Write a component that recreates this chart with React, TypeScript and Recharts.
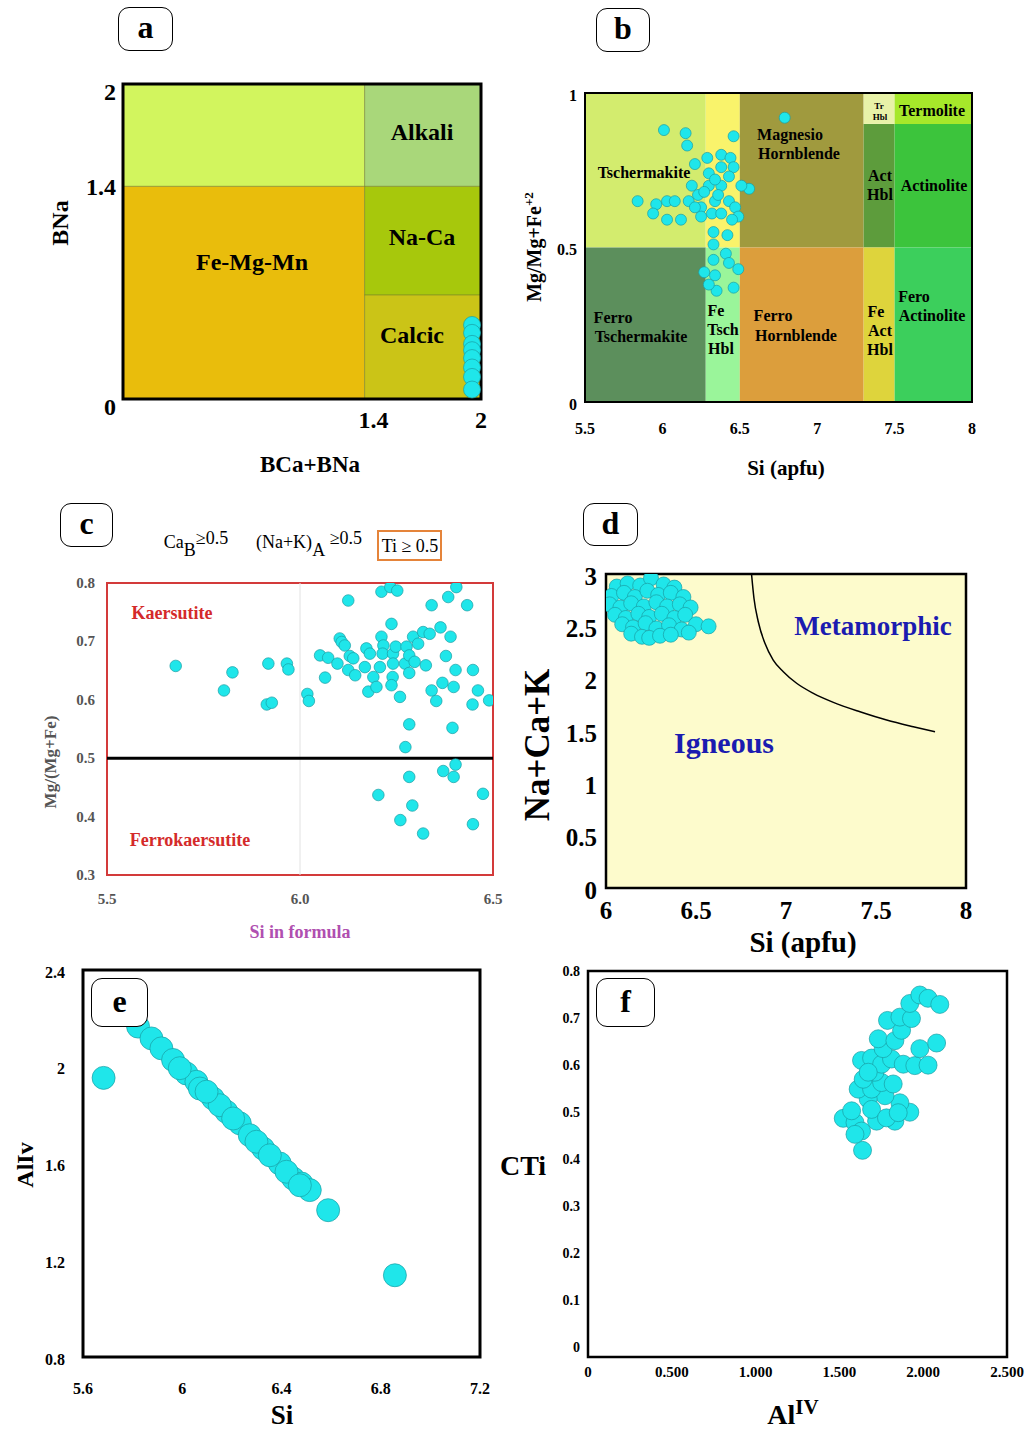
import React from "react";
import {
  ScatterChart,
  ComposedChart,
  Scatter,
  Line,
  XAxis,
  YAxis,
  ReferenceArea,
  ReferenceLine,
} from "recharts";

const SERIF = '"Liberation Serif", "Times New Roman", serif';
const CYAN = "#1fe6ea";
const CYAN_EDGE = "#1a9da3";

// ---------- a: BNa vs BCa+BNa ----------
const aXTicks = [1.4, 2];
const aYTicks = [0, 1.4, 2];
const aRegions: [number, number, number, number][] = [
  [0, 1.35, 1.35, 2],
  [1.35, 2, 1.35, 2],
  [0, 1.35, 0, 1.35],
  [1.35, 2, 0.66, 1.35],
  [1.35, 2, 0, 0.66],
];
const aFills = ["#d2f55e", "#a9d77a", "#e9bd0c", "#a7c80c", "#cbc417"];
const aPoints: [number, number][] = [
  [1.95, 0.47], [1.95, 0.42], [1.95, 0.35], [1.95, 0.31],
  [1.95, 0.26], [1.95, 0.2], [1.95, 0.14], [1.95, 0.06],
];

// ---------- b: Mg/(Mg+Fe2) vs Si ----------
const bXTicks = [5.5, 6, 6.5, 7, 7.5, 8];
const bYTicks = [0, 0.5, 1];
const bRegions: [number, number, number, number][] = [
  [5.5, 6.28, 0.5, 1],
  [6.28, 6.5, 0.5, 1],
  [6.5, 7.3, 0.5, 1],
  [7.3, 7.5, 0.9, 1],
  [7.5, 8, 0.9, 1],
  [7.3, 7.5, 0.5, 0.9],
  [7.5, 8, 0.5, 0.9],
  [5.5, 6.28, 0, 0.5],
  [6.28, 6.5, 0, 0.5],
  [6.5, 7.3, 0, 0.5],
  [7.3, 7.5, 0, 0.5],
  [7.5, 8, 0, 0.5],
];
const bFills = [
  "#d3ec6e", "#f9f36b", "#a09a3e", "#e8f2a8", "#a6e82a", "#5d9c3c",
  "#3cc43c", "#5c8f5c", "#9af59a", "#dc9e3c", "#ded43c", "#3ccf5c",
];
const bPoints: [number, number][] = [
  [6.79, 0.92], [6.01, 0.88], [6.15, 0.87], [6.16, 0.83], [6.46, 0.86],
  [6.29, 0.79], [6.38, 0.8], [6.44, 0.79], [6.21, 0.77], [6.46, 0.76],
  [6.3, 0.74], [6.38, 0.76], [6.56, 0.69], [6.51, 0.7], [5.84, 0.65],
  [5.96, 0.64], [5.94, 0.61], [6.03, 0.65], [6.03, 0.59], [6.12, 0.59],
  [6.08, 0.65], [6.17, 0.65], [6.19, 0.7], [6.23, 0.67], [6.25, 0.63],
  [6.3, 0.7], [6.34, 0.65], [6.38, 0.7], [6.43, 0.65], [6.47, 0.63],
  [6.49, 0.6], [6.25, 0.6], [6.32, 0.61], [6.38, 0.61], [6.45, 0.59],
  [6.34, 0.72], [6.43, 0.73], [6.21, 0.63], [6.27, 0.68], [6.36, 0.67],
  [6.33, 0.55], [6.42, 0.54], [6.33, 0.51], [6.41, 0.48], [6.43, 0.45],
  [6.33, 0.46], [6.27, 0.42], [6.49, 0.43], [6.34, 0.41], [6.35, 0.36],
  [6.46, 0.37], [6.3, 0.38],
];

// ---------- c: Mg/(Mg+Fe) vs Si in formula ----------
const cXTicks = [5.5, 6.0, 6.5];
const cYTicks = [0.3, 0.4, 0.5, 0.6, 0.7, 0.8];
const cPoints: [number, number][] = [
  [5.678, 0.658], [5.825, 0.647], [5.803, 0.616], [5.918, 0.662], [5.914, 0.592],
  [5.927, 0.595], [5.966, 0.662], [5.97, 0.652], [6.019, 0.61], [6.023, 0.598],
  [6.052, 0.676], [6.073, 0.672], [6.065, 0.638], [6.097, 0.662], [6.125, 0.77],
  [6.103, 0.705], [6.108, 0.699], [6.116, 0.693], [6.129, 0.675], [6.138, 0.671],
  [6.125, 0.651], [6.143, 0.642], [6.168, 0.656], [6.172, 0.688], [6.181, 0.679],
  [6.177, 0.614], [6.19, 0.639], [6.198, 0.622], [6.207, 0.656], [6.211, 0.785],
  [6.211, 0.708], [6.216, 0.693], [6.214, 0.679], [6.234, 0.793], [6.252, 0.787],
  [6.237, 0.73], [6.241, 0.679], [6.241, 0.662], [6.24, 0.639], [6.237, 0.625],
  [6.248, 0.691], [6.259, 0.605], [6.272, 0.662], [6.276, 0.691], [6.283, 0.676],
  [6.283, 0.646], [6.293, 0.708], [6.297, 0.665], [6.306, 0.696], [6.319, 0.716],
  [6.336, 0.713], [6.326, 0.659], [6.341, 0.762], [6.341, 0.616], [6.353, 0.598],
  [6.364, 0.724], [6.369, 0.629], [6.378, 0.675], [6.384, 0.776], [6.39, 0.708],
  [6.398, 0.622], [6.403, 0.651], [6.405, 0.793], [6.433, 0.762], [6.448, 0.651],
  [6.447, 0.592], [6.461, 0.616], [6.49, 0.599], [6.283, 0.558], [6.395, 0.552],
  [6.273, 0.519], [6.403, 0.489], [6.371, 0.478], [6.398, 0.468], [6.283, 0.468],
  [6.203, 0.437], [6.474, 0.439], [6.291, 0.419], [6.26, 0.394], [6.448, 0.387],
  [6.319, 0.371],
];

// ---------- d: Na+Ca+K vs Si ----------
const dXTicks = [6, 6.5, 7, 7.5, 8];
const dYTicks = [0, 0.5, 1, 1.5, 2, 2.5, 3];
const dBoundary: [number, number][] = [
  [6.809, 2.99], [6.822, 2.768], [6.846, 2.544], [6.883, 2.338], [6.929, 2.178],
  [6.985, 2.067], [7.059, 1.956], [7.152, 1.86], [7.263, 1.774], [7.411, 1.684],
  [7.559, 1.605], [7.707, 1.541], [7.828, 1.493],
];
const dPoints: [number, number][] = [
  [6.06, 2.88], [6.12, 2.91], [6.19, 2.89], [6.25, 2.96], [6.32, 2.9], [6.38, 2.87],
  [6.03, 2.79], [6.1, 2.82], [6.16, 2.78], [6.23, 2.84], [6.29, 2.8], [6.36, 2.82],
  [6.43, 2.78], [6.02, 2.71], [6.08, 2.68], [6.14, 2.72], [6.21, 2.69], [6.28, 2.73],
  [6.34, 2.69], [6.41, 2.71], [6.47, 2.68], [6.05, 2.61], [6.11, 2.58], [6.18, 2.62],
  [6.24, 2.59], [6.31, 2.62], [6.38, 2.58], [6.44, 2.61], [6.09, 2.52], [6.15, 2.49],
  [6.22, 2.53], [6.28, 2.48], [6.35, 2.51], [6.42, 2.47], [6.5, 2.52], [6.57, 2.5],
  [6.14, 2.43], [6.2, 2.4], [6.24, 2.39], [6.3, 2.41], [6.36, 2.42], [6.46, 2.44],
];

// ---------- e: AlIV vs Si ----------
const eXTicks = [5.6, 6, 6.4, 6.8, 7.2];
const eYTicks = [0.8, 1.2, 1.6, 2, 2.4];
const ePoints: [number, number][] = [
  [5.683, 1.954], [6.588, 1.407], [6.857, 1.138], [5.822, 2.166], [5.876, 2.117],
  [5.916, 2.076], [5.963, 2.028], [6.017, 1.972], [6.057, 1.938], [6.124, 1.869],
  [6.178, 1.814], [6.232, 1.766], [6.272, 1.717], [6.326, 1.662], [6.393, 1.6],
  [6.447, 1.538], [6.481, 1.517], [6.514, 1.49], [6.071, 1.91], [6.151, 1.841],
  [6.205, 1.786], [6.299, 1.69], [6.353, 1.634], [6.42, 1.566], [6.474, 1.51],
  [5.99, 1.994], [6.098, 1.897],
];

// ---------- f: CTi vs AlIV ----------
const fXTicks = [0, 0.5, 1, 1.5, 2, 2.5];
const fYTicks = [0, 0.1, 0.2, 0.3, 0.4, 0.5, 0.6, 0.7, 0.8];
const fPoints: [number, number][] = [
  [1.638, 0.419], [1.523, 0.487], [1.593, 0.478], [1.632, 0.46], [1.722, 0.481],
  [1.831, 0.481], [1.92, 0.5], [1.861, 0.52], [1.772, 0.535], [1.672, 0.528],
  [1.612, 0.549], [1.692, 0.549], [1.752, 0.563], [1.821, 0.56], [1.642, 0.57],
  [1.712, 0.585], [1.632, 0.61], [1.692, 0.615], [1.752, 0.602], [1.811, 0.613],
  [1.881, 0.602], [1.95, 0.599], [2.029, 0.6], [1.98, 0.635], [2.08, 0.647],
  [1.761, 0.635], [1.732, 0.656], [1.831, 0.652], [1.871, 0.674], [1.787, 0.695],
  [1.861, 0.702], [1.93, 0.699], [1.92, 0.731], [1.98, 0.749], [2.029, 0.742],
  [2.099, 0.729], [1.692, 0.506], [1.573, 0.503], [1.781, 0.488], [1.851, 0.499],
  [1.672, 0.585], [1.593, 0.453],
];

const toXY = (pts: [number, number][]) => pts.map(([x, y]) => ({ x, y }));

type Box = { left: number; top: number; right: number; bottom: number };
const PAD = { l: 60, t: 10, r: 20, b: 50 };

function placement(b: Box) {
  return {
    wrap: {
      position: "absolute" as const,
      left: b.left - PAD.l,
      top: b.top - PAD.t,
    },
    width: b.right - b.left + PAD.l + PAD.r,
    height: b.bottom - b.top + PAD.t + PAD.b,
    margin: { top: PAD.t, right: PAD.r, bottom: 0, left: 0 },
  };
}

const dot = (r: number) => (p: any) =>
  <circle cx={p.cx} cy={p.cy} r={r} fill={CYAN} stroke={CYAN_EDGE} strokeWidth={0.7} />;

function xTick(off: number, size: number, fmt?: (v: number) => string, color = "#000") {
  return (p: any) => (
    <text
      x={p.x}
      y={p.y + off}
      textAnchor="middle"
      dominantBaseline="central"
      fontFamily={SERIF}
      fontWeight="bold"
      fontSize={size}
      fill={color}
    >
      {fmt ? fmt(p.payload.value) : p.payload.value}
    </text>
  );
}

function yTick(gap: number, size: number, dy = 0, fmt?: (v: number) => string, color = "#000") {
  return (p: any) => (
    <text
      x={p.x - gap}
      y={p.y + dy}
      textAnchor="end"
      dominantBaseline="central"
      fontFamily={SERIF}
      fontWeight="bold"
      fontSize={size}
      fill={color}
    >
      {fmt ? fmt(p.payload.value) : p.payload.value}
    </text>
  );
}

function T({ x, y, size, children, color = "#000", rot = 0, weight = "bold" }: any) {
  return (
    <div
      style={{
        position: "absolute",
        left: x,
        top: y,
        transform: `translate(-50%, -50%)${rot ? ` rotate(${rot}deg)` : ""}`,
        fontFamily: SERIF,
        fontWeight: weight,
        fontSize: size,
        color,
        whiteSpace: "nowrap",
        lineHeight: 1,
      }}
    >
      {children}
    </div>
  );
}

function Tag({ x, y, w, h, letter }: any) {
  return (
    <div
      style={{
        position: "absolute",
        left: x,
        top: y,
        width: w,
        height: h,
        boxSizing: "border-box",
        border: "1.5px solid #000",
        borderRadius: 11,
        background: "#fff",
        display: "flex",
        alignItems: "center",
        justifyContent: "center",
        fontFamily: SERIF,
        fontWeight: "bold",
        fontSize: 32,
        lineHeight: 1,
        paddingBottom: 4,
      }}
    >
      {letter}
    </div>
  );
}

function PanelA() {
  const p = placement({ left: 123, top: 84, right: 481, bottom: 399 });
  return (
    <div style={p.wrap}>
      <ScatterChart width={p.width} height={p.height} margin={p.margin}>
        <XAxis type="number" dataKey="x" domain={[0, 2]} ticks={aXTicks} interval={0}
          height={PAD.b} axisLine={false} tickLine={false} tickSize={0} tickMargin={0}
          tick={xTick(21, 24)} allowDataOverflow />
        <YAxis type="number" dataKey="y" domain={[0, 2]} ticks={aYTicks} interval={0}
          width={PAD.l} axisLine={false} tickLine={false} tickSize={0} tickMargin={0}
          tick={yTick(7, 24, 8)} allowDataOverflow />
        {aRegions.map(([x1, x2, y1, y2], i) => (
          <ReferenceArea key={i} x1={x1} x2={x2} y1={y1} y2={y2} fill={aFills[i]}
            fillOpacity={1} stroke="#6f7a2a" strokeWidth={0.8} strokeOpacity={0.6} />
        ))}
        <ReferenceArea x1={0} x2={2} y1={0} y2={2} fill="none" stroke="#000" strokeWidth={3} />
        <Scatter data={toXY(aPoints)} shape={dot(8.5)} isAnimationActive={false} />
      </ScatterChart>
    </div>
  );
}

function PanelB() {
  const p = placement({ left: 585, top: 93, right: 972, bottom: 402 });
  return (
    <div style={p.wrap}>
      <ScatterChart width={p.width} height={p.height} margin={p.margin}>
        <XAxis type="number" dataKey="x" domain={[5.5, 8]} ticks={bXTicks} interval={0}
          height={PAD.b} axisLine={false} tickLine={false} tickSize={0} tickMargin={0}
          tick={xTick(26, 16)} allowDataOverflow />
        <YAxis type="number" dataKey="y" domain={[0, 1]} ticks={bYTicks} interval={0}
          width={PAD.l} axisLine={false} tickLine={false} tickSize={0} tickMargin={0}
          tick={yTick(8, 16, 2)} allowDataOverflow />
        {bRegions.map(([x1, x2, y1, y2], i) => (
          <ReferenceArea key={i} x1={x1} x2={x2} y1={y1} y2={y2} fill={bFills[i]}
            fillOpacity={1} stroke="none" />
        ))}
        <ReferenceArea x1={5.5} x2={8} y1={0} y2={1} fill="none" stroke="#000" strokeWidth={2} />
        <Scatter data={toXY(bPoints)} shape={dot(5.5)} isAnimationActive={false} />
      </ScatterChart>
    </div>
  );
}

function PanelC() {
  const p = placement({ left: 107, top: 583, right: 493, bottom: 875 });
  return (
    <div style={p.wrap}>
      <ScatterChart width={p.width} height={p.height} margin={p.margin}>
        <XAxis type="number" dataKey="x" domain={[5.5, 6.5]} ticks={cXTicks} interval={0}
          height={PAD.b} axisLine={false} tickLine={false} tickSize={0} tickMargin={0}
          tick={xTick(24, 15, (v) => v.toFixed(1), "#555")} allowDataOverflow />
        <YAxis type="number" dataKey="y" domain={[0.3, 0.8]} ticks={cYTicks} interval={0}
          width={PAD.l} axisLine={false} tickLine={false} tickSize={0} tickMargin={0}
          tick={yTick(12, 15, 0, (v) => v.toFixed(1), "#555")} allowDataOverflow />
        <ReferenceLine x={6} stroke="#e2e2e2" strokeWidth={1} />
        <ReferenceArea x1={5.5} x2={6.5} y1={0.3} y2={0.8} fill="none" stroke="#d33a3a" strokeWidth={2} />
        <ReferenceLine y={0.5} stroke="#000" strokeWidth={3} />
        <Scatter data={toXY(cPoints)} shape={dot(5.8)} isAnimationActive={false} />
      </ScatterChart>
    </div>
  );
}

function PanelD() {
  const p = placement({ left: 606, top: 574, right: 966, bottom: 888 });
  return (
    <div style={p.wrap}>
      <ComposedChart width={p.width} height={p.height} margin={p.margin}>
        <XAxis type="number" dataKey="x" domain={[6, 8]} ticks={dXTicks} interval={0}
          height={PAD.b} axisLine={false} tickLine={false} tickSize={0} tickMargin={0}
          tick={xTick(22, 25)} allowDataOverflow />
        <YAxis type="number" dataKey="y" domain={[0, 3]} ticks={dYTicks} interval={0}
          width={PAD.l} axisLine={false} tickLine={false} tickSize={0} tickMargin={0}
          tick={yTick(9, 25, 2)} allowDataOverflow />
        <ReferenceArea x1={6} x2={8} y1={0} y2={3} fill="#fdfbcc" fillOpacity={1}
          stroke="#000" strokeWidth={2.5} />
        <Line data={toXY(dBoundary)} dataKey="y" type="monotone" stroke="#000"
          strokeWidth={1.5} dot={false} isAnimationActive={false} />
        <Scatter data={toXY(dPoints)} shape={dot(7.5)} isAnimationActive={false} />
      </ComposedChart>
    </div>
  );
}

function PanelE() {
  const p = placement({ left: 83, top: 970, right: 480, bottom: 1357 });
  return (
    <div style={p.wrap}>
      <ScatterChart width={p.width} height={p.height} margin={p.margin}>
        <XAxis type="number" dataKey="x" domain={[5.6, 7.2]} ticks={eXTicks} interval={0}
          height={PAD.b} axisLine={false} tickLine={false} tickSize={0} tickMargin={0}
          tick={xTick(31, 16)} allowDataOverflow />
        <YAxis type="number" dataKey="y" domain={[0.8, 2.4]} ticks={eYTicks} interval={0}
          width={PAD.l} axisLine={false} tickLine={false} tickSize={0} tickMargin={0}
          tick={yTick(18, 16, 2)} allowDataOverflow />
        <ReferenceArea x1={5.6} x2={7.2} y1={0.8} y2={2.4} fill="none" stroke="#000" strokeWidth={3} />
        <Scatter data={toXY(ePoints)} shape={dot(11.5)} isAnimationActive={false} />
      </ScatterChart>
    </div>
  );
}

function PanelF() {
  const p = placement({ left: 588, top: 971, right: 1007, bottom: 1357 });
  return (
    <div style={p.wrap}>
      <ScatterChart width={p.width} height={p.height} margin={p.margin}>
        <XAxis type="number" dataKey="x" domain={[0, 2.5]} ticks={fXTicks} interval={0}
          height={PAD.b} axisLine={false} tickLine={false} tickSize={0} tickMargin={0}
          tick={xTick(15, 15, (v) => (v === 0 ? "0" : v.toFixed(3)))} allowDataOverflow />
        <YAxis type="number" dataKey="y" domain={[-0.02, 0.8]} ticks={fYTicks} interval={0}
          width={PAD.l} axisLine={false} tickLine={false} tickSize={0} tickMargin={0}
          tick={yTick(8, 14, 0, (v) => (v === 0 ? "0" : String(v)))} allowDataOverflow />
        <ReferenceArea x1={0} x2={2.5} y1={-0.02} y2={0.8} fill="none" stroke="#000" strokeWidth={2.5} />
        <Scatter data={toXY(fPoints)} shape={dot(9)} isAnimationActive={false} />
      </ScatterChart>
    </div>
  );
}

export default function App() {
  return (
    <div
      style={{
        position: "absolute",
        left: 0,
        top: 0,
        width: 1036,
        height: 1431,
        background: "#fff",
        overflow: "hidden",
      }}
    >
      <PanelA />
      <PanelB />
      <PanelC />
      <PanelD />
      <PanelE />
      <PanelF />

      {/* a */}
      <Tag x={118} y={7} w={55} h={44} letter="a" />
      <T x={60} y={223} size={24} rot={-90}>BNa</T>
      <T x={310} y={464} size={23}>BCa+BNa</T>
      <T x={422} y={132} size={24}>Alkali</T>
      <T x={422} y={237} size={24}>Na-Ca</T>
      <T x={252} y={262} size={24}>Fe-Mg-Mn</T>
      <T x={412} y={335} size={24}>Calcic</T>

      {/* b */}
      <Tag x={596} y={8} w={54} h={44} letter="b" />
      <T x={533} y={247} size={20} rot={-90}>
        Mg/Mg+Fe<sup style={{ fontSize: 13 }}>+2</sup>
      </T>
      <T x={786} y={468} size={21}>Si (apfu)</T>
      <T x={644} y={173} size={16}>Tschermakite</T>
      <T x={790} y={135} size={16}>Magnesio</T>
      <T x={799} y={154} size={16}>Hornblende</T>
      <T x={879} y={106} size={9}>Tr</T>
      <T x={880} y={117} size={9}>Hbl</T>
      <T x={932} y={111} size={16}>Termolite</T>
      <T x={880} y={176} size={16}>Act</T>
      <T x={880} y={195} size={16}>Hbl</T>
      <T x={934} y={186} size={16}>Actinolite</T>
      <T x={613} y={318} size={16}>Ferro</T>
      <T x={641} y={337} size={16}>Tschermakite</T>
      <T x={716} y={311} size={16}>Fe</T>
      <T x={723} y={330} size={16}>Tsch</T>
      <T x={721} y={349} size={16}>Hbl</T>
      <T x={773} y={316} size={16}>Ferro</T>
      <T x={796} y={336} size={16}>Hornblende</T>
      <T x={876} y={312} size={16}>Fe</T>
      <T x={880} y={331} size={16}>Act</T>
      <T x={880} y={350} size={16}>Hbl</T>
      <T x={914} y={297} size={16}>Fero</T>
      <T x={932} y={316} size={16}>Actinolite</T>

      {/* c */}
      <Tag x={60} y={503} w={53} h={44} letter="c" />
      <T x={196} y={546} size={18} weight="normal">
        Ca<sub style={{ fontSize: 18, verticalAlign: -8 }}>B</sub>
        <span style={{ position: "relative", top: -4 }}>≥0.5</span>
      </T>
      <T x={309} y={546} size={18} weight="normal">
        (Na+K)<sub style={{ fontSize: 18, verticalAlign: -8 }}>A</sub>
        <span style={{ position: "relative", top: -4 }}> ≥0.5</span>
      </T>
      <div
        style={{
          position: "absolute",
          left: 377,
          top: 530,
          width: 65,
          height: 31,
          boxSizing: "border-box",
          border: "2px solid #e5843a",
        }}
      />
      <T x={410} y={546} size={18} weight="normal">Ti ≥ 0.5</T>
      <T x={50} y={762} size={17} rot={-90} color="#555">Mg/(Mg+Fe)</T>
      <T x={300} y={932} size={18} color="#b04fb0">Si in formula</T>
      <T x={172} y={613} size={18} color="#d42a2a">Kaersutite</T>
      <T x={190} y={840} size={18} color="#d42a2a">Ferrokaersutite</T>

      {/* d */}
      <Tag x={583} y={503} w={55} h={43} letter="d" />
      <T x={537} y={745} size={35} rot={-90}>Na+Ca+K</T>
      <T x={803} y={942} size={29}>Si (apfu)</T>
      <T x={873} y={626} size={27} color="#1b1bb0">Metamorphic</T>
      <T x={724} y={743} size={30} color="#1b1bb0">Igneous</T>

      {/* e */}
      <Tag x={91} y={978} w={57} h={49} letter="e" />
      <T x={25} y={1165} size={24} rot={-90}>AlIv</T>
      <T x={282} y={1415} size={27}>Si</T>

      {/* f */}
      <Tag x={596} y={978} w={59} h={49} letter="f" />
      <T x={523} y={1166} size={28}>CTi</T>
      <T x={793} y={1413} size={28}>
        Al<sup style={{ fontSize: 21 }}>IV</sup>
      </T>
    </div>
  );
}
